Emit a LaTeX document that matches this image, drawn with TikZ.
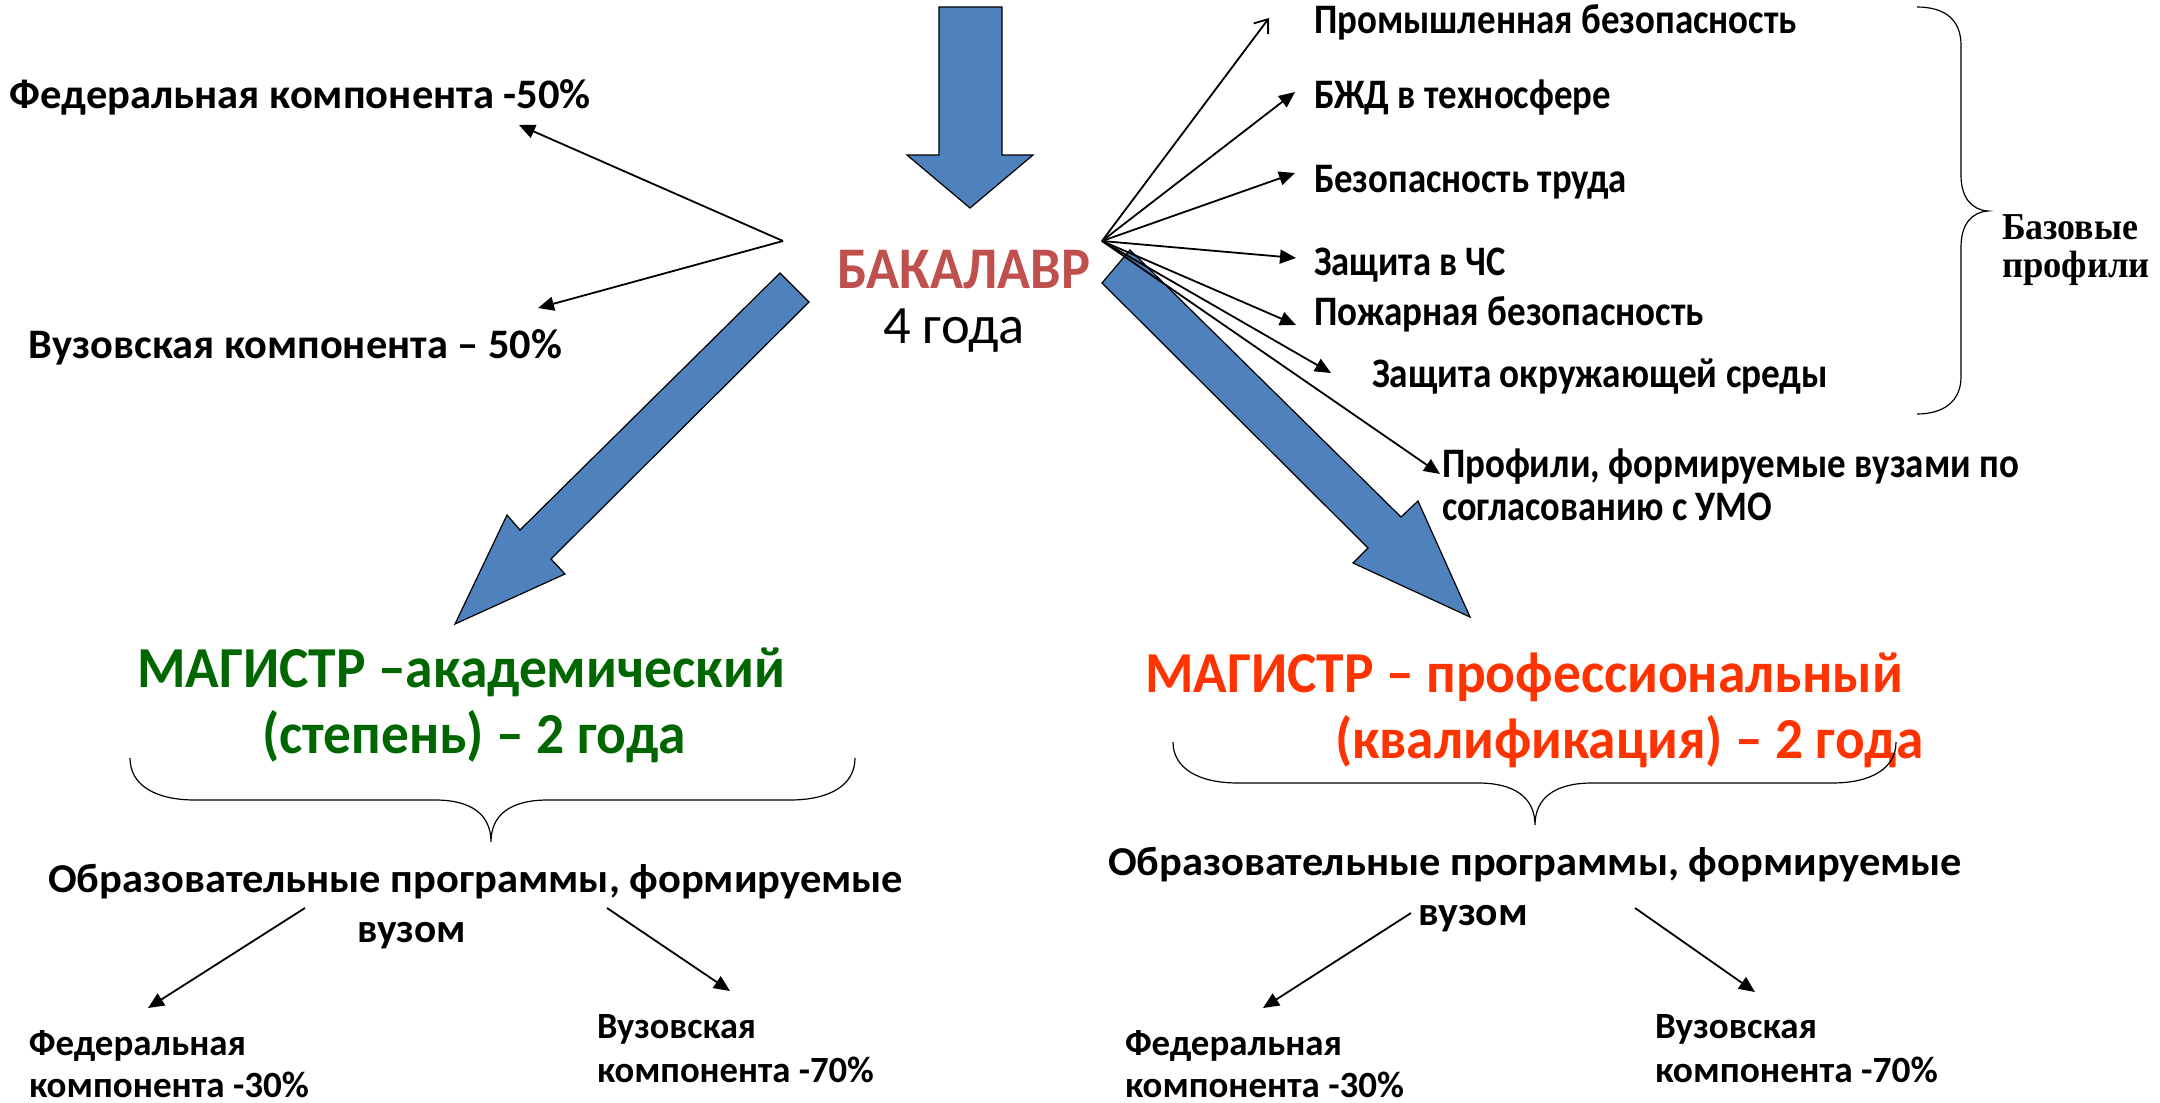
\documentclass[tikz,border=0pt]{standalone}
\usepackage{fontspec}
\setmainfont{Carlito}
\newfontfamily\serifb{Liberation Serif}
\usepackage{graphicx}
\usetikzlibrary{arrows.meta}
\definecolor{ablue}{HTML}{4F81BD}
\definecolor{bred}{HTML}{C0504D}
\definecolor{mgreen}{HTML}{006600}
\definecolor{morange}{HTML}{FF3300}
\newlength\FitLen
\newcommand\FitW[2]{\settowidth{\FitLen}{#2}\pgfmathsetmacro\FitRatio{#1*0.5/\FitLen}\scalebox{\FitRatio}[1]{#2}}
\begin{document}
\begin{tikzpicture}[x=0.5pt,y=-0.5pt,
  txt/.style={inner sep=0pt, outer sep=0pt, anchor=base west},
  lab/.style={txt, font=\fontsize{21}{25}\selectfont\bfseries},
  slab/.style={txt, font=\fontsize{18.5}{22}\selectfont\bfseries},
  obr/.style={txt, font=\fontsize{20.5}{24}\selectfont\bfseries},
  mag/.style={txt, font=\fontsize{29}{34}\selectfont\bfseries},
  fan/.style={line width=0.9pt, -{Triangle[length=8pt,width=7pt]}},
  fanopen/.style={line width=0.9pt, -{Straight Barb[length=6pt,width=9pt]}},
  blk/.style={fill=ablue, draw=black, line width=0.6pt, line join=miter},
  brc/.style={line width=0.6pt}]
\useasboundingbox (0,0) rectangle (2160,1103);

% block arrows
\draw[blk] (939,7) -- (1002,7) -- (1002,155) -- (1033,155) -- (970,208) -- (907,155) -- (939,155) -- cycle;
\draw[blk] (780,273) -- (809,302) -- (551,559) -- (565,574) -- (455,624) -- (507,515) -- (520,530) -- cycle;
\draw[blk] (1102,283) -- (1130,250) -- (1401,517) -- (1418,501) -- (1470,617) -- (1353,563) -- (1368,548) -- cycle;

% centre
\node[txt, font=\fontsize{29.5}{34}\selectfont\bfseries, text=bred] (bak) at (837,288) {\FitW{253}{БАКАЛАВР}};
\node[txt, font=\fontsize{27}{32}\selectfont] (years4) at (883,343) {\FitW{142}{4 года}};

% left labels
\node[lab] (fed50) at (10,108) {\FitW{581}{Федеральная компонента -50\%}};
\node[lab] (vuz50) at (29,358) {\FitW{533}{Вузовская компонента – 50\%}};

% right labels
\node[lab] (prom) at (1314,33) {\FitW{483}{Промышленная безопасность}};
\node[lab] (bzd) at (1314,108) {\FitW{297}{БЖД в техносфере}};
\node[lab] (beztr) at (1314,192) {\FitW{313}{Безопасность труда}};
\node[lab] (zcs) at (1314,275) {\FitW{192}{Защита в ЧС}};
\node[lab] (pozh) at (1314,325) {\FitW{390}{Пожарная безопасность}};
\node[lab] (zokr) at (1372,387) {\FitW{456}{Защита окружающей среды}};
\node[lab] (prof1) at (1442,477) {\FitW{577}{Профили, формируемые вузами по}};
\node[lab] (prof2) at (1442,520) {\FitW{330}{согласованию с УМО}};
\node[txt, font=\serifb\fontsize{19}{23}\selectfont\bfseries] (baz1) at (2002,239) {\FitW{136}{Базовые}};
\node[txt, font=\serifb\fontsize{19}{23}\selectfont\bfseries] (baz2) at (2002,277) {\FitW{148}{профили}};

% fan coordinates
\coordinate (fanL) at (783,241);
\coordinate (fanR) at (1102,241);
\coordinate (tfed) at (519,125);
\coordinate (tvuz) at (538,308);
\coordinate (t1) at (1269,18);
\coordinate (t2) at (1295,92);
\coordinate (t3) at (1295,173);
\coordinate (t4) at (1296,258);
\coordinate (t5) at (1296,325);
\coordinate (t6) at (1331,373);
\coordinate (t7) at (1440,474);

\draw[fan] (fanL) -- (tfed);
\draw[fan] (fanL) -- (tvuz);
\draw[fanopen] (fanR) -- (t1);
\draw[fan] (fanR) -- (t2);
\draw[fan] (fanR) -- (t3);
\draw[fan] (fanR) -- (t4);
\draw[fan] (fanR) -- (t5);
\draw[fan] (fanR) -- (t6);
\draw[fan] (fanR) -- (t7);

% right brace
\draw[brc] (1917,7) .. controls (1945,7) and (1961,20) .. (1961,45) -- (1961,175)
  .. controls (1961,198) and (1972,210) .. (1988,211)
  .. controls (1972,212) and (1961,224) .. (1961,247) -- (1961,377)
  .. controls (1961,400) and (1945,414) .. (1917,414);

% bottom left
\node[mag, text=mgreen] (magA1) at (137,687) {\FitW{648}{МАГИСТР –академический}};
\node[mag, text=mgreen] (magA2) at (262,753) {\FitW{424}{(степень) – 2 года}};
\draw[brc] (130,758) .. controls (130,785) and (155,800) .. (195,800) -- (435,800)
  .. controls (472,800) and (491,815) .. (491,842)
  .. controls (491,815) and (510,800) .. (548,800) -- (790,800)
  .. controls (830,800) and (855,785) .. (855,758);
\node[obr] (obrA1) at (48,892) {\FitW{855}{Образовательные программы, формируемые}};
\node[obr] (obrA2) at (357,942) {\FitW{109}{вузом}};
\coordinate (aL1) at (305,908);
\coordinate (aL2) at (148,1008);
\coordinate (aR1) at (607,908);
\coordinate (aR2) at (730,991);
\draw[fan] (aL1) -- (aL2);
\draw[fan] (aR1) -- (aR2);
\node[slab] (fedA1) at (29,1055) {\FitW{217}{Федеральная}};
\node[slab] (fedA2) at (29,1097) {\FitW{280}{компонента -30\%}};
\node[slab] (vuzA1) at (597,1038) {\FitW{159}{Вузовская}};
\node[slab] (vuzA2) at (597,1082) {\FitW{277}{компонента -70\%}};

% bottom right
\node[mag, text=morange] (magP1) at (1145,692) {\FitW{758}{МАГИСТР – профессиональный}};
\node[mag, text=morange] (magP2) at (1335,758) {\FitW{589}{(квалификация) – 2 года}};
\draw[brc] (1173,742) .. controls (1173,768) and (1198,783) .. (1238,783) -- (1478,783)
  .. controls (1515,783) and (1535,798) .. (1535,825)
  .. controls (1535,798) and (1555,783) .. (1592,783) -- (1832,783)
  .. controls (1872,783) and (1896,768) .. (1896,742);
\node[obr] (obrP1) at (1108,875) {\FitW{854}{Образовательные программы, формируемые}};
\node[obr] (obrP2) at (1418,925) {\FitW{110}{вузом}};
\coordinate (bL1) at (1411,913);
\coordinate (bL2) at (1263,1008);
\coordinate (bR1) at (1635,908);
\coordinate (bR2) at (1755,992);
\draw[fan] (bL1) -- (bL2);
\draw[fan] (bR1) -- (bR2);
\node[slab] (fedP1) at (1125,1055) {\FitW{217}{Федеральная}};
\node[slab] (fedP2) at (1125,1097) {\FitW{279}{компонента -30\%}};
\node[slab] (vuzP1) at (1655,1038) {\FitW{162}{Вузовская}};
\node[slab] (vuzP2) at (1655,1082) {\FitW{283}{компонента -70\%}};
\end{tikzpicture}
\end{document}
